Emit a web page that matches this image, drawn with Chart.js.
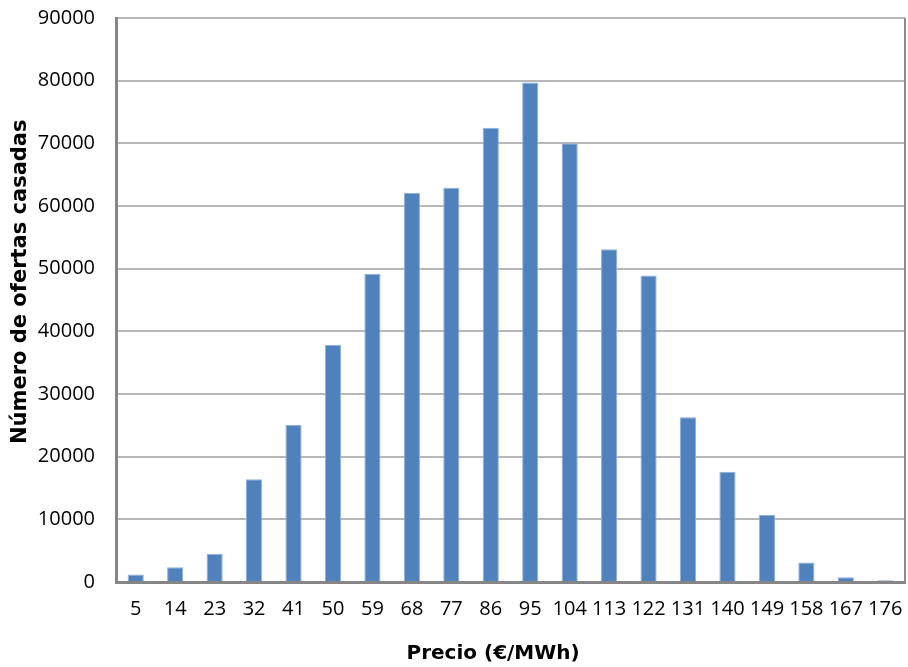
<!DOCTYPE html>
<html>
<head>
<meta charset="utf-8">
<script src="https://cdn.jsdelivr.net/npm/chart.js@4"></script>
<style>
html,body{margin:0;padding:0;background:#fff}
#wrap{width:908px;height:667px}
</style>
</head>
<body>
<div id="wrap"><canvas id="ofertasChart" width="908" height="667"></canvas></div>
<script>

// DATA

const precios = ['5','14','23','32','41','50','59','68','77','86','95','104','113','122','131','140','149','158','167','176']

const ofertas = [1200,2350,4500,16400,25100,37800,49200,62100,62900,72500,79700,70000,53100,48900,26300,17600,10750,3100,750,270]

const yTicks = [0,10000,20000,30000,40000,50000,60000,70000,80000,90000]


// right edge of the plot frame

const frameRight = {
id:'frameRight',
afterDatasetsDraw(chart){
const {ctx, chartArea} = chart
ctx.save()
ctx.strokeStyle = '#8c8c8c'
ctx.lineWidth = 2
ctx.beginPath()
ctx.moveTo(chartArea.right, chartArea.top)
ctx.lineTo(chartArea.right, chartArea.bottom)
ctx.stroke()
ctx.restore()
}
}


// CHART

const ctx = document.getElementById('ofertasChart')

const ofertasChart = new Chart(ctx,{

type:'bar',

data:{
labels:precios,
datasets:[{
label:'Ofertas casadas',
data:ofertas,
backgroundColor:'#4F81BD',
borderColor:'#8fb0da',
borderWidth:1,
categoryPercentage:1,
barPercentage:0.41
}]
},

options:{
responsive:false,
animation:false,
layout:{padding:{top:18,right:3,left:0,bottom:0}},
plugins:{
legend:{display:false},
tooltip:{enabled:false}
},
scales:{
x:{
grid:{display:false,drawTicks:false},
border:{color:'#868686',width:3},
ticks:{
color:'#000',
padding:15,
maxRotation:0,
autoSkip:false,
font:{family:'"Open Sans"',size:20}
},
title:{
display:true,
// trailing spaces pull the title a little left of the plot centre
text:'Precio (€/MWh)     ',
color:'#000',
padding:{top:0,bottom:1},
font:{family:'"DejaVu Sans"',size:20,weight:'bold'}
},
afterFit(scale){
scale.height = 85
scale.paddingLeft = 0
scale.paddingRight = 0
}
},
y:{
min:0,
max:90000,
afterBuildTicks(scale){ scale.ticks = yTicks.map(v=>({value:v})) },
grid:{color:'#b8b8b8',lineWidth:2,drawTicks:false},
border:{color:'#868686',width:3},
ticks:{
color:'#000',
padding:21,
font:{family:'"Open Sans"',size:20},
callback:v=>String(v)
},
title:{
display:true,
text:'     Número de ofertas casadas',
color:'#000',
padding:{top:8,bottom:0},
font:{family:'"DejaVu Sans"',size:21,weight:'bold'}
},
afterFit(scale){
scale.width = 116
scale.paddingTop = 0
scale.paddingBottom = 0
}
}
}
},

plugins:[frameRight]

})

</script>
</body>
</html>
